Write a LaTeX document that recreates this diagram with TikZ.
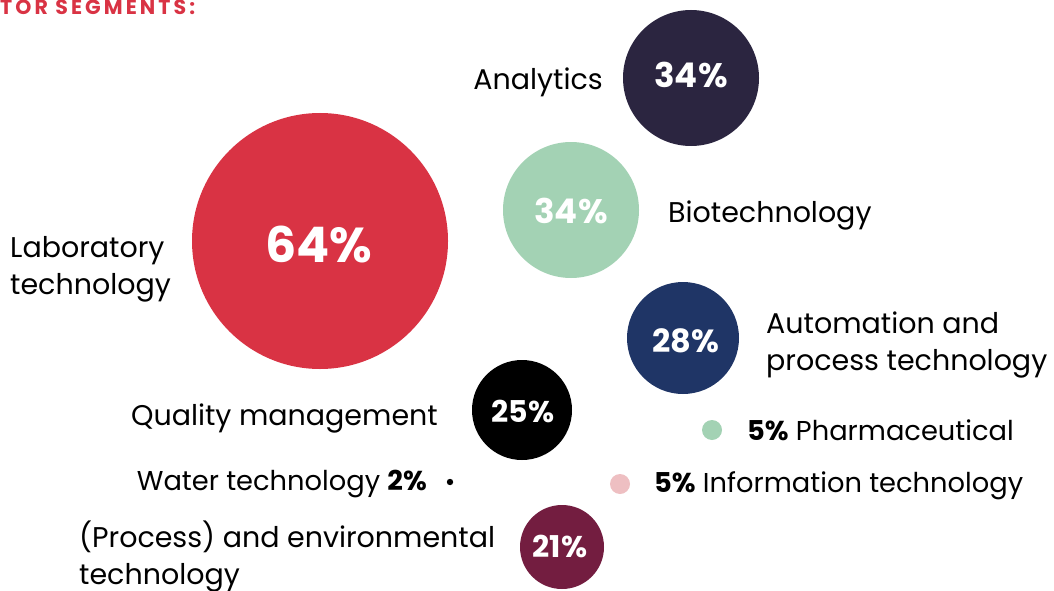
\documentclass[tikz,border=0pt]{standalone}
\usepackage{fontspec}
\setmainfont{Poppins}
\newfontfamily\headfont[LetterSpace=15]{Poppins}
\usepackage{tikz}
\definecolor{labred}{HTML}{D93344}
\definecolor{anadark}{HTML}{2B2540}
\definecolor{biogreen}{HTML}{A3D2B4}
\definecolor{autonavy}{HTML}{1F3566}
\definecolor{envmaroon}{HTML}{731D40}
\definecolor{itpink}{HTML}{EEBFC2}
\tikzset{lb/.style={font=\fontsize{28.5}{36.5}\selectfont, align=left, inner sep=0pt}}
\tikzset{sm/.style={font=\fontsize{27.3}{28}\selectfont, inner sep=0pt}}
\tikzset{pc/.style={font=\fontsize{32}{32}\selectfont\bfseries, text=white, inner sep=0pt, anchor=base}}

\begin{document}
\begin{tikzpicture}[x=1pt, y=-1pt]
        \useasboundingbox (0,0) rectangle (1054,591);
        \node [anchor=base west, inner sep=0pt, text=labred, font=\headfont\fontsize{20.5}{20.5}\selectfont\bfseries] (title) at (0,15) {TOR SEGMENTS:};
        % bubbles
        \fill [labred] (320,241) circle (128);
        \node [pc, font=\fontsize{49}{49}\selectfont\bfseries] (lab) at (319,262) {64\%};
        \fill [anadark] (691,78) circle (68);
        \node [pc, font=\fontsize{34}{34}\selectfont\bfseries] (ana) at (691,88) {34\%};
        \fill [biogreen] (571,210) circle (68);
        \node [pc, font=\fontsize{34}{34}\selectfont\bfseries] (bio) at (571,223) {34\%};
        \fill [autonavy] (683,338) circle (56);
        \node [pc] (auto) at (686,352) {28\%};
        \fill [black] (522,410) circle (50);
        \node [pc, font=\fontsize{30}{30}\selectfont\bfseries] (qual) at (523,422) {25\%};
        \fill [envmaroon] (562,547) circle (42);
        \node [pc, font=\fontsize{30}{30}\selectfont\bfseries] (env) at (560,557) {21\%};
        \fill [biogreen] (712,430) circle (10);
        \fill [itpink] (620,484) circle (10);
        \fill [black] (450,482) circle (3.2);
        % labels
        \node [lb, anchor=base east] (analbl) at (603,90) {Analytics};
        \node [lb, anchor=base west] (biolbl) at (668,222) {Biotechnology};
        \node [lb, anchor=base west] (lablbl) at (10,294) {Laboratory\\technology};
        \node [lb, anchor=base west] (autolbl) at (766,370) {Automation and\\process technology};
        \node [lb, anchor=base east] (quallbl) at (438,425) {Quality management};
        \node [sm, anchor=base east] (waterlbl) at (427,490) {Water technology \textbf{2\%}};
        \node [lb, anchor=base west] (envlbl) at (79,584) {(Process) and environmental\\technology};
        \node [sm, anchor=base west] (pharmlbl) at (747,440) {\textbf{5\%} Pharmaceutical};
        \node [sm, anchor=base west] (itlbl) at (654,492) {\textbf{5\%} Information technology};
\end{tikzpicture}
\end{document}
